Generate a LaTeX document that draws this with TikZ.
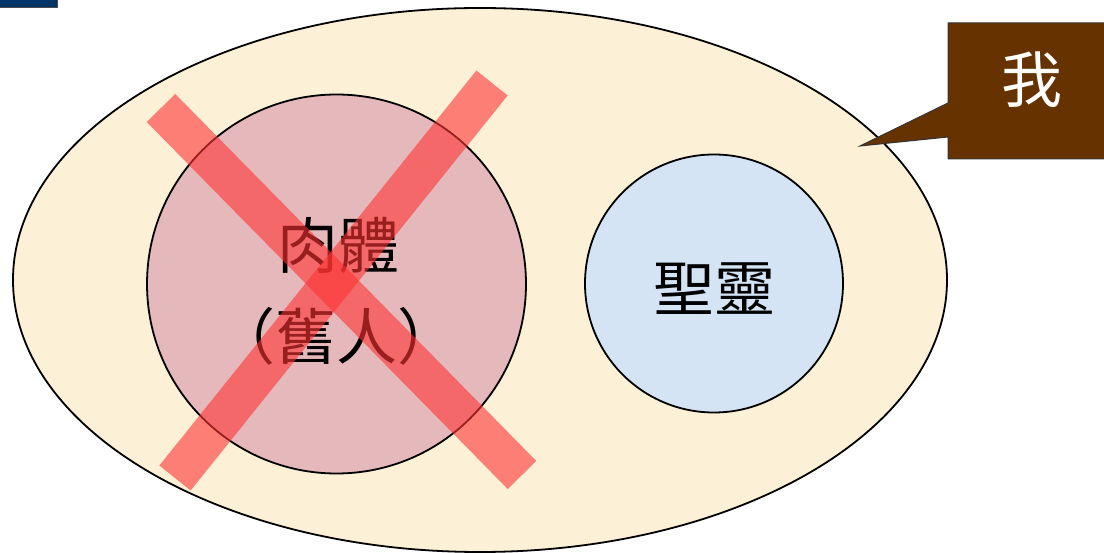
\documentclass[tikz,border=0pt]{standalone}
\usepackage{fontspec}
\newfontfamily\cjk{Noto Sans CJK TC}
\definecolor{cream}{RGB}{252,240,214}
\definecolor{pinkfill}{RGB}{229,184,188}
\definecolor{bluefill}{RGB}{212,228,245}
\definecolor{xred}{RGB}{255,51,51}
\definecolor{brownbox}{RGB}{102,51,0}
\definecolor{navy}{RGB}{0,51,102}
\tikzset{
  outline/.style={draw=black, line width=1.8pt},
  crossbar/.style={draw=xred, draw opacity=0.6, line width=40pt},
  bigtext/.style={font=\cjk\fontsize{61}{70}\selectfont, inner sep=0pt},
}
\begin{document}
\begin{tikzpicture}[x=1pt, y=-1pt]
\useasboundingbox (0,0) rectangle (1104,553);
\fill[white] (0,0) rectangle (1104,553);
% top-left bar
\filldraw[fill=navy, draw=black!70, line width=1pt] (-5,-5) rectangle (57,8);
% big ellipse
\filldraw[fill=cream, outline] (480,280) ellipse [x radius=467, y radius=272];
% circles
\filldraw[fill=pinkfill, outline] (336.5,284) circle [radius=189.5];
\filldraw[fill=bluefill, outline] (714,283.5) circle [radius=129];
% texts
\node[bigtext] (flesh) at (338,245) {肉體};
\node[bigtext] (old) at (336,336) {（舊人）};
\node[bigtext] (spirit) at (714,289) {聖靈};
% red cross
\draw[crossbar] (161,108) -- (522,475);
\draw[crossbar] (492,83) -- (175,478);
% callout
\filldraw[fill=brownbox, draw=black!80, line width=1pt]
  (948,23) -- (1110,23) -- (1110,159) -- (948,159) -- (948,137) -- (860,146) -- (948,103) -- cycle;
\node[bigtext, text=white] (me) at (1032,80) {我};
\end{tikzpicture}
\end{document}
